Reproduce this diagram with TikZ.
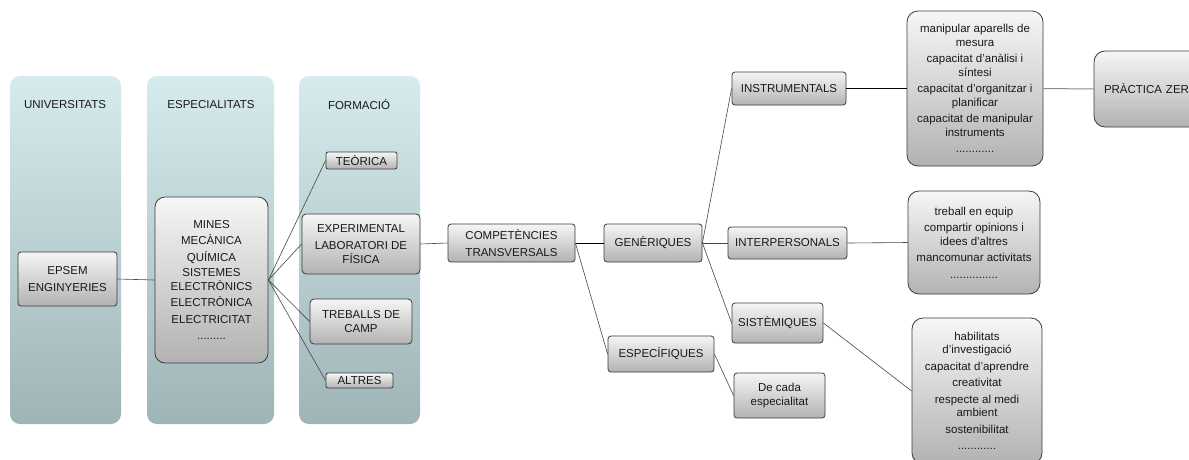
\documentclass[tikz,border=0pt]{standalone}
\usepackage{fontspec}
\setmainfont{Liberation Sans}
\newcommand\dfont{\fontsize{11.5}{13.5}\selectfont}
\definecolor{paneltop}{RGB}{214,235,238}
\definecolor{panelbot}{RGB}{158,180,183}
\definecolor{boxtop}{RGB}{246,246,246}
\definecolor{boxbot}{RGB}{178,178,178}
\definecolor{boxline}{RGB}{60,60,60}
\definecolor{linecol}{RGB}{70,70,70}
\begin{document}
\begin{tikzpicture}[x=1pt,y=-1pt,
  panel/.style={rounded corners=10pt, top color=paneltop, bottom color=panelbot, draw=none},
  box/.style={draw=boxline, line width=0.8pt, rounded corners=3pt, top color=boxtop, bottom color=boxbot, inner sep=0pt, align=center, font=\dfont, text=black!90},
  bigbox/.style={box, rounded corners=11pt},
  head/.style={font=\dfont, text=black!90, inner sep=0pt},
  link/.style={draw=linecol, line width=0.6pt},
  strong/.style={draw=black, line width=1pt},
  pale/.style={draw=black!45, line width=1pt}]
\clip (0,0) rectangle (1189,459);
\fill[white] (0,0) rectangle (1189,459);
% panels
\path[panel] (10,76) rectangle (121,424);
\path[panel] (147,76) rectangle (274,424);
\path[panel] (299,76) rectangle (420,424);
\node[head] (h1) at (65,105) {UNIVERSITATS};
\node[head] (h2) at (211,105) {ESPECIALITATS};
\node[head] (h3) at (359,105) {FORMACIÓ};
% nodes
\node[box, minimum width=99, minimum height=54] (epsem) at (67.5,279) {EPSEM\\[3pt]ENGINYERIES};
\node[bigbox, rounded corners=10pt, minimum width=113, minimum height=166] (espec) at (211.5,280)
  {MINES\\[3pt]MECÀNICA\\[3pt]QUÍMICA\\[2pt]SISTEMES\\ELECTRÒNICS\\[3pt]ELECTRÒNICA\\[3pt]ELECTRICITAT\\[3pt].........};
\node[box, rounded corners=2pt, minimum width=71, minimum height=17] (teo) at (361.5,160.5) {TEÒRICA};
\node[box, rounded corners=4pt, minimum width=118, minimum height=60] (exp) at (361,244) {EXPERIMENTAL\\[4pt]LABORATORI DE\\FÍSICA};
\node[box, rounded corners=4pt, minimum width=102, minimum height=45] (camp) at (361,321.5) {TREBALLS DE\\CAMP};
\node[box, rounded corners=2pt, minimum width=67, minimum height=15] (altres) at (359.5,380.5) {ALTRES};
\node[box, minimum width=127, minimum height=38] (comp) at (511.5,243) {COMPETÈNCIES\\[3pt]TRANSVERSALS};
\node[box, minimum width=98, minimum height=38] (gen) at (653,243) {GENÈRIQUES};
\node[box, minimum width=106, minimum height=36] (espf) at (661,354) {ESPECÍFIQUES};
\node[box, minimum width=114, minimum height=33] (instr) at (789,88.5) {INSTRUMENTALS};
\node[box, minimum width=119, minimum height=32] (inter) at (787.5,243) {INTERPERSONALS};
\node[box, minimum width=91, minimum height=40] (sist) at (777.5,323) {SISTÈMIQUES};
\node[box, minimum width=91, minimum height=45] (cada) at (779.5,395.5) {De cada\\especialitat};
\node[bigbox, minimum width=136, minimum height=155] (manip) at (975,88.5)
  {manipular aparells de\\mesura\\[3pt]capacitat d’anàlisi i\\síntesi\\[3pt]capacitat d’organitzar i\\planificar\\[3pt]capacitat de manipular\\instruments\\[3pt]............};
\node[bigbox, minimum width=132, minimum height=103] (treb) at (974,242.5)
  {treball en equip\\[3pt]compartir opinions i\\idees d’altres\\[3pt]mancomunar activitats\\[3pt]...............};
\node[bigbox, minimum width=130, minimum height=146] (habil) at (977,391)
  {habilitats\\d’investigació\\[3pt]capacitat d’aprendre\\[3pt]creativitat\\[3pt]respecte al medi\\ambient\\[3pt]sostenibilitat\\[3pt]............};
\node[bigbox, inner xsep=10pt, text width=101, align=left, minimum height=76] (zero) at (1154.5,89) {PRÀCTICA ZERO};
% connectors
\draw[link] (epsem.east) -- (espec.west);
\draw[link] (espec.east) -- (teo.west);
\draw[link] (espec.east) -- (exp.west);
\draw[link] (espec.east) -- (camp.west);
\draw[link] (espec.east) -- (altres.west);
\draw[link] (exp.east) -- (comp.west);
\draw[strong] (comp.east) -- (gen.west);
\draw[link] (comp.east) -- (espf.west);
\draw[link] (gen.east) -- (instr.west);
\draw[link] (gen.east) -- (inter.west);
\draw[link] (gen.east) -- (sist.west);
\draw[link] (espf.east) -- (cada.west);
\draw[strong] (instr.east) -- (manip.west);
\draw[link] (inter.east) -- (treb.west);
\draw[link] (sist.east) -- (habil.west);
\draw[pale] (manip.east) -- (zero.west);
\end{tikzpicture}
\end{document}
